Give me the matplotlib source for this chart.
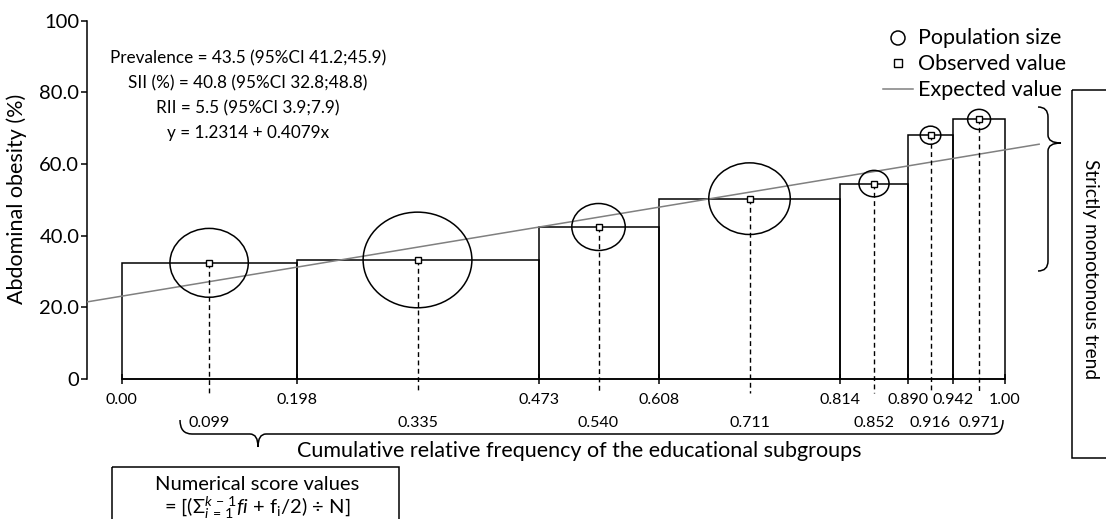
import numpy as np
import matplotlib.pyplot as plt
from matplotlib.path import Path
from matplotlib.patches import PathPatch, Rectangle, Ellipse

plt.rcParams['font.family'] = ['Lato', 'DejaVu Sans']
plt.rcParams['mathtext.fontset'] = 'custom'
plt.rcParams['mathtext.rm'] = 'Lato'
plt.rcParams['mathtext.it'] = 'Lato:italic'

# cumulative relative frequency of the educational subgroups
edges = [0.0, 0.198, 0.473, 0.608, 0.814, 0.890, 0.942, 1.0]
edge_labels = ['0.00', '0.198', '0.473', '0.608', '0.814', '0.890', '0.942', '1.00']
midpoints = [0.099, 0.335, 0.540, 0.711, 0.852, 0.916, 0.971]
mid_labels = ['0.099', '0.335', '0.540', '0.711', '0.852', '0.916', '0.971']
# observed prevalence of abdominal obesity (%)
prevalence = [32.4, 33.2, 42.4, 50.3, 54.5, 68.0, 72.4]
# fitted line (expected value)
trend_intercept = 23.1
trend_slope = 40.8
trend_x = [-0.039, 1.039]

yticks = [0, 20, 40, 60, 80, 100]
ytick_labels = ['0', '20.0', '40.0', '60.0', '80.0', '100']

stats_lines = ['Prevalence = 43.5 (95%CI 41.2;45.9)',
               'SII (%) = 40.8 (95%CI 32.8;48.8)',
               'RII = 5.5 (95%CI 3.9;7.9)',
               'y = 1.2314 + 0.4079x']

W, H = 1106, 519
fig = plt.figure(figsize=(W / 100, H / 100), dpi=100)

# main axes: x=0 at px 121.7, x=1 at px 1004.7 ; y=0 at px 379, y=100 at px 20.5
ax = fig.add_axes([87 / W, 1 - 395.1 / H, (1050 - 87) / W, (395.1 - 20.5) / H])
ax.set_xlim(-0.0393, 1.0513)
ax.set_ylim(-4.5, 100)

widths = np.diff(edges)
ax.bar(edges[:-1], prevalence, width=widths, align='edge', fill=False,
       edgecolor='black', linewidth=1.1, zorder=2)

# trend line
tx = np.array(trend_x)
ax.plot(tx, trend_intercept + trend_slope * tx, color='#808080', lw=1.1, zorder=3)

# population size ellipses, scaled by group share
for m, p, w in zip(midpoints, prevalence, widths):
    ax.add_patch(Ellipse((m, p), width=0.448 * w, height=97 * w, fill=False,
                         edgecolor='black', lw=1.1, zorder=4))

# dashed drop lines
for m, p in zip(midpoints, prevalence):
    ax.plot([m, m], [p, -3.9], color='black', lw=1, dashes=(3.5, 2.5), zorder=3,
            clip_on=False)

ax.plot(midpoints, prevalence, ls='none', marker='s', ms=4.5, mfc='white',
        mec='black', mew=1, zorder=5)

for s in ['top', 'right']:
    ax.spines[s].set_visible(False)
ax.spines['left'].set_bounds(0, 100)
ax.spines['bottom'].set_position(('data', 0))
ax.spines['bottom'].set_bounds(0, 1)
ax.spines['left'].set_linewidth(1.1)
ax.spines['bottom'].set_linewidth(1.1)

ax.set_yticks(yticks)
ax.set_yticklabels(ytick_labels, fontsize=14.5)
ax.tick_params(axis='y', direction='out', length=4.5, width=1.1, pad=1)

ax.set_xticks(edges)
ax.set_xticklabels(edge_labels, fontsize=11.5)
ax.set_xticks(midpoints, minor=True)
ax.set_xticklabels(mid_labels, minor=True, fontsize=11.5)
ax.tick_params(axis='x', which='major', direction='inout', length=6.5, width=1.1, pad=7)
ax.tick_params(axis='x', which='minor', length=0, pad=27)

# overlay in pixel coordinates for annotations
ov = fig.add_axes([0, 0, 1, 1])
ov.set_xlim(0, W)
ov.set_ylim(H, 0)
ov.axis('off')

ov.text(17, 199, 'Abdominal obesity (%)', rotation=90, ha='center', va='center',
        fontsize=15.5)

for i, line in enumerate(stats_lines):
    ov.text(248, 58 + 25 * i, line, ha='center', va='center', fontsize=12.3)

# legend
ov.add_patch(Ellipse((898, 38), 14, 14, fill=False, edgecolor='black', lw=1.1))
ov.plot([898], [63], ls='none', marker='s', ms=5.5, mfc='white', mec='black', mew=1)
ov.plot([883, 913], [89, 89], color='#808080', lw=1.1)
for yy, txt in zip([38, 64, 90], ['Population size', 'Observed value', 'Expected value']):
    ov.text(918, yy, txt, ha='left', va='center', fontsize=15.5)

# right brace
verts = [(1038, 107), (1048, 107), (1048, 117), (1048, 135), (1048, 143), (1061, 143),
         (1048, 143), (1048, 151), (1048, 261), (1048, 271), (1038, 271)]
codes = [Path.MOVETO, Path.CURVE3, Path.CURVE3, Path.LINETO, Path.CURVE3, Path.CURVE3,
         Path.CURVE3, Path.CURVE3, Path.LINETO, Path.CURVE3, Path.CURVE3]
ov.add_patch(PathPatch(Path(verts, codes), fill=False, lw=1.1))
ov.add_patch(Rectangle((1072, 90), 60, 368, fill=False, lw=1.1, clip_on=False))
ov.text(1091, 269, 'Strictly monotonous trend', rotation=-90, ha='center',
        va='center', fontsize=13.8)

# bottom brace
verts = [(180, 420), (180, 434), (192, 434), (250, 434), (258, 434), (258, 447),
         (258, 434), (266, 434), (992, 434), (1003, 434), (1003, 420)]
ov.add_patch(PathPatch(Path(verts, codes), fill=False, lw=1.1))
ov.text(579, 451, 'Cumulative relative frequency of the educational subgroups',
        ha='center', va='center', fontsize=15.5)

ov.add_patch(Rectangle((112, 467), 287, 70, fill=False, lw=1.1, clip_on=False))
ov.text(257, 485, 'Numerical score values', ha='center', va='center', fontsize=14.5)
ov.text(257, 508, r'= [($\Sigma_{i\,=\,1}^{k\,-\,1}\mathit{fi}$ + f$_\mathrm{i}$/2) ÷ N]',
        ha='center', va='center', fontsize=14.5)

fig.savefig('out.png', dpi=100)
